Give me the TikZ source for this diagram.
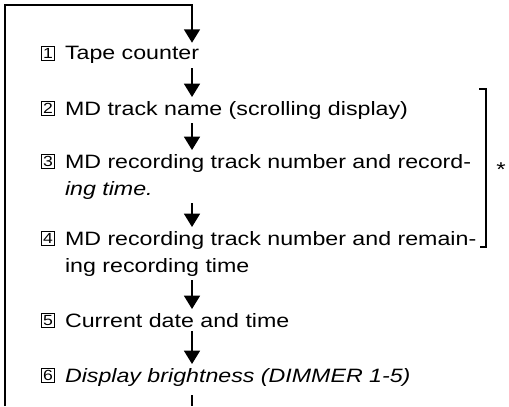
\documentclass[tikz,border=0pt]{standalone}
\usepackage{fontspec}
\setmainfont[FakeStretch=1.2]{Liberation Sans}
\usetikzlibrary{arrows.meta, calc}

\begin{document}
\begin{tikzpicture}[x=0.75pt, y=-0.75pt,
		item/.style={anchor=base west, inner sep=0pt, outer sep=3pt, align=left,
			font=\fontsize{14.5}{20.25}\selectfont},
		numbox/.style={draw, line width=0.8pt, minimum width=10pt, minimum height=10pt,
			inner sep=0pt, font=\fontsize{11}{11}\selectfont},
		flow/.style={-{Triangle[length=10pt, width=12pt]}, line width=1.1pt},
		]
	\useasboundingbox (0,0) rectangle (509,406);
	
	%% -- display items (base = last line) -------------
	\node[item] (t1) at (61, 60)  {Tape counter};
	\node[item] (t2) at (61, 115) {MD track name (scrolling display)};
	\node[item] (t3) at (61, 195) {MD recording track number and record-\\\textit{ing time.}};
	\node[item] (t4) at (61, 272) {MD recording track number and remain-\\ing recording time};
	\node[item] (t5) at (61, 327) {Current date and time};
	\node[item] (t6) at (61, 382) {\textit{Display brightness (DIMMER 1-5)}};
	
	% number boxes
	\foreach \i/\y in {1/60, 2/115, 3/168, 4/245, 5/327, 6/382}
		\node[numbox] (n\i) at (48, \y-6.5) {\i};
	
	%% -- arrows down the axis -------------------------
	\coordinate (axis) at (192, 0);
	\draw[flow] (t1.south -| axis) -- (t2.north -| axis);
	\draw[flow] (t2.south -| axis) -- (t3.north -| axis);
	\draw[flow] (t3.south -| axis) -- (t4.north -| axis);
	\draw[flow] (t4.south -| axis) -- (t5.north -| axis);
	\draw[flow] (t5.south -| axis) -- (t6.north -| axis);
	
	% loop back to the top
	\coordinate (loopTL) at (5, 5);
	\coordinate (loopBL) at (5, 406);
	\draw[flow] (loopBL) -- (loopTL) -| (t1.north -| axis);
	\draw[line width=1.1pt, shorten <=4pt] (t6.south -| axis) -- (axis |- loopBL);
	
	%% -- bracket for items 2 to 4 ---------------------
	\coordinate (brtop) at (486, 89);
	\coordinate (brbot) at (486, 247);
	\draw[line width=0.8pt] ($(brtop)+(-7,0)$) -- (brtop) -- (brbot) -- ($(brbot)+(-6,0)$);
	\node[font=\fontsize{15}{15}\selectfont, inner sep=0pt] (star) at (501, 170) {*};
	
\end{tikzpicture}
\end{document}
